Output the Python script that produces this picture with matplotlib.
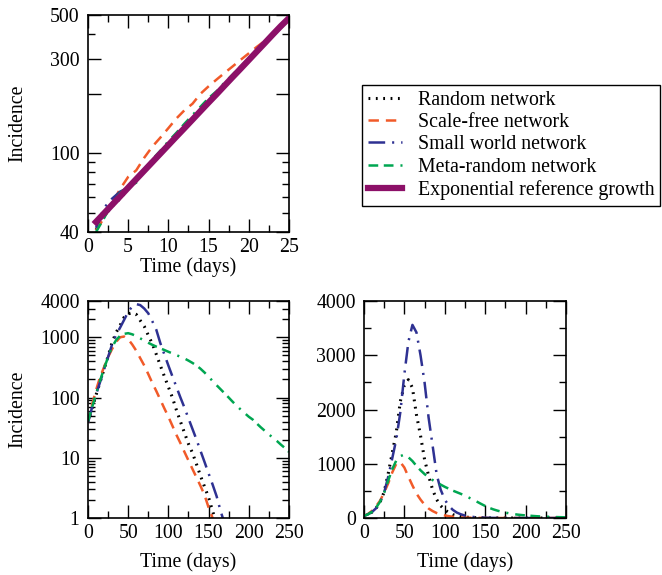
import matplotlib
matplotlib.use('Agg')
from matplotlib import pyplot as plt
from matplotlib.ticker import FixedLocator, FixedFormatter, NullFormatter, MultipleLocator

plt.rcParams['font.family'] = ['Liberation Serif', 'DejaVu Serif']
plt.rcParams['font.size'] = 14.3
plt.rcParams['lines.scale_dashes'] = False

# early phase, days 1-25 (top panel)
early_days = list(range(1, 26))
early_random = [41, 48, 54, 59, 66, 73, 81, 90, 99, 110, 121, 134, 148, 163, 180,
                199, 220, 243, 268, 296, 327, 361, 399, 440, 480]
early_scale_free = [41, 47, 56, 66, 76, 82, 95, 108, 120, 134, 150, 165, 178, 200, 218,
                    236, 255, 275, 297, 320, 345, 370, 400, 432, 470]
early_small_world = [42, 53, 59, 64, 67, 74, 82, 90, 100, 111, 122, 135, 148, 163, 180,
                     198, 218, 240, 265, 292, 322, 355, 392, 432, 465]
early_meta_random = [40, 47, 56, 63, 68, 71, 83, 93, 103, 115, 127, 141, 156, 172, 190,
                     206, 228, 250, 275, 302, 333, 362, 395, 430, 470]
early_reference = [45, 49.7, 54.9, 60.6, 67, 74, 81.7, 90.2, 99.6, 110, 121.5, 134, 148, 163.5, 180.5,
                   199, 220, 243, 268, 296, 327, 361, 399, 440, 482]

# whole epidemic, every 5 days (bottom panels)
days = list(range(0, 255, 5))
random_net = [38, 66, 110, 180, 296, 480, 820, 1200, 1580, 2150, 2450, 2550, 2400, 1900, 1520,
              1080, 780, 520, 340, 225, 150, 100, 62, 40, 26, 17, 12, 7.8, 5, 3.3,
              2.2, 1.3, 0.8, 0.4] + [0] * 17
scale_free = [38, 76, 132, 218, 320, 470, 640, 840, 1000, 1030, 930, 760, 600, 450, 340,
              245, 175, 128, 92, 66, 48, 34, 24, 17.5, 12.5, 9, 6.5, 4.7, 3.4, 2.4,
              1.5, 1.0, 0.7, 0.45] + [0] * 17
small_world = [38, 68, 112, 180, 292, 470, 760, 1100, 1450, 1950, 2650, 3250, 3560, 3420, 3000,
               2500, 1850, 1330, 800, 520, 340, 225, 150, 100, 68, 45, 30, 20, 13, 8.5,
               5.5, 3.6, 2.3, 1.3, 0.8, 0.5] + [0] * 15
meta_random = [40, 68, 115, 190, 302, 470, 690, 900, 1060, 1140, 1170, 1120, 1050, 960, 880,
               810, 750, 700, 655, 615, 575, 540, 505, 475, 445, 410, 375, 340, 300, 260,
               222, 188, 160, 137, 117, 100, 85, 73, 63, 55, 48, 43, 37, 32, 28,
               24.5, 21.5, 19, 16.5, 14.5, 12.5]

labels = ['Random network', 'Scale-free network', 'Small world network',
          'Meta-random network', 'Exponential reference growth']
styles = [
    dict(color='#000000', lw=2.2, dashes=(1.3, 4.0)),
    dict(color='#f15a29', lw=1.8, dashes=(7.5, 5)),
    dict(color='#2e3192', lw=1.8, dashes=(12, 5, 1.5, 5)),
    dict(color='#00a651', lw=1.8, dashes=(7, 4, 7, 5, 1.5, 5)),
    dict(color='#8c1068', lw=4.5),
]


def style_axes(ax):
    ax.tick_params(which='both', direction='in', top=True, right=True, width=1.0, labelsize=14.3)
    ax.tick_params(which='major', length=9.5)
    ax.tick_params(which='minor', length=5)
    ax.tick_params(axis='x', pad=4)
    ax.tick_params(axis='y', pad=6)
    for s in ax.spines.values():
        s.set_linewidth(1.2)


fig = plt.figure(figsize=(6.62, 5.75), dpi=100)
ax1 = fig.add_axes([0.1329, 0.5965, 0.3036, 0.3774])
ax2 = fig.add_axes([0.1329, 0.0991, 0.3036, 0.3774])
ax3 = fig.add_axes([0.5498, 0.0991, 0.3051, 0.3774])

# top panel: early growth
handles = []
for y, st in zip([early_random, early_scale_free, early_small_world, early_meta_random, early_reference], styles):
    ln, = ax1.plot(early_days, y, **st)
    handles.append(ln)
ax1.set_yscale('log')
ax1.set_xlim(0, 25)
ax1.set_ylim(40, 500)
ax1.yaxis.set_major_locator(FixedLocator([40, 100, 200, 300, 500]))
ax1.yaxis.set_major_formatter(FixedFormatter(['40', '100', '', '300', '500']))
ax1.yaxis.set_minor_locator(FixedLocator([50, 60, 70, 80, 90, 400]))
ax1.yaxis.set_minor_formatter(NullFormatter())
ax1.xaxis.set_major_locator(MultipleLocator(5))
ax1.xaxis.set_minor_locator(MultipleLocator(2.5))
style_axes(ax1)
ax1.set_ylabel('Incidence')
ax1.set_xlabel('Time (days)')
ax1.yaxis.set_label_coords(-0.30, 0.5)
ax1.xaxis.set_label_coords(0.5, -0.115)

# bottom panels: whole epidemic
for ax in (ax2, ax3):
    for y, st in zip([random_net, scale_free, small_world, meta_random], styles):
        ax.plot(days, y, **st)
    ax.set_xlim(0, 250)
    ax.xaxis.set_major_locator(MultipleLocator(50))
    ax.xaxis.set_minor_locator(MultipleLocator(25))
    style_axes(ax)
    ax.set_xlabel('Time (days)')
    ax.xaxis.set_label_coords(0.5, -0.16)

ax2.set_yscale('log')
ax2.set_ylim(1, 4000)
ax2.yaxis.set_major_locator(FixedLocator([1, 10, 100, 1000, 4000]))
ax2.yaxis.set_major_formatter(FixedFormatter(['1', '10', '100', '1000', '4000']))
ax2.yaxis.set_minor_locator(FixedLocator([m * d for d in (1, 10, 100, 1000) for m in range(2, 10) if m * d < 4000]))
ax2.yaxis.set_minor_formatter(NullFormatter())
ax2.set_ylabel('Incidence')
ax2.yaxis.set_label_coords(-0.30, 0.5)

ax3.set_ylim(0, 4000)
ax3.yaxis.set_major_locator(MultipleLocator(1000))
ax3.yaxis.set_minor_locator(MultipleLocator(500))

leg = fig.legend(handles, labels, loc='upper left', bbox_to_anchor=(0.547, 0.852),
                 frameon=True, fancybox=False, edgecolor='black', framealpha=1,
                 borderaxespad=0, handlelength=1.7, handletextpad=0.8,
                 labelspacing=0.16, borderpad=0.3, fontsize=14.3)
leg.get_frame().set_linewidth(1.0)

fig.savefig('out.png', dpi=100)
